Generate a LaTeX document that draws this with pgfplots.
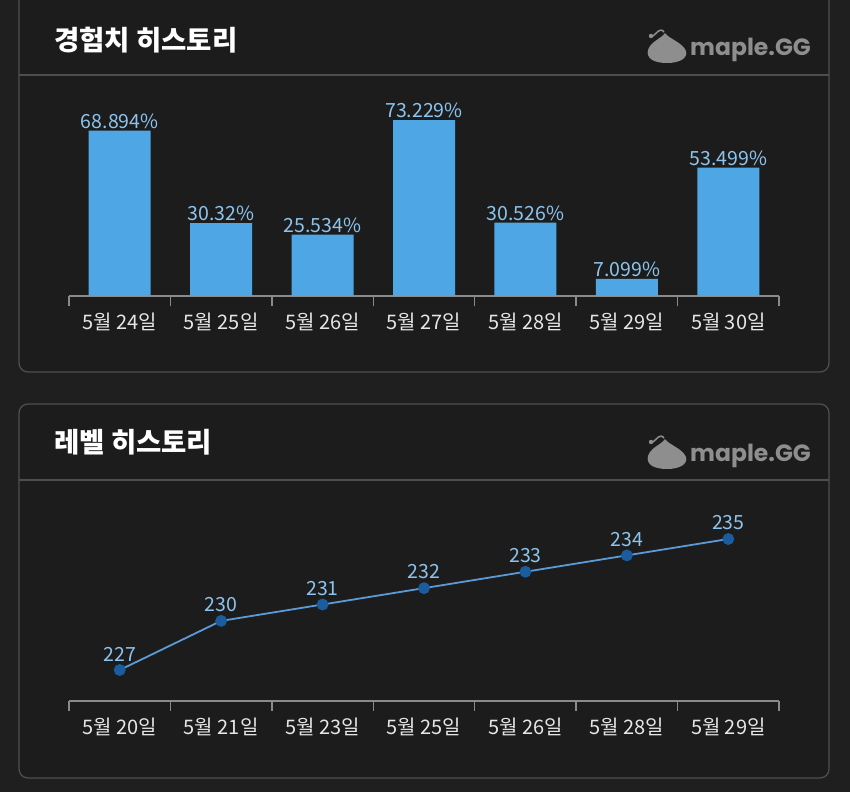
\documentclass[border=0pt]{standalone}
\usepackage{fontspec}
\setmainfont{Noto Sans CJK KR}
\newfontfamily\logofont{Poppins}
\usepackage{pgfplots}
\pgfplotsset{compat=1.18}

\definecolor{bgout}{HTML}{1F1F1F}
\definecolor{panelbg}{HTML}{1C1C1C}
\definecolor{panelline}{HTML}{4E4E4E}
\definecolor{axisgrey}{HTML}{8A8A8A}
\definecolor{ticktext}{HTML}{E6E6E6}
\definecolor{barblue}{HTML}{4EA7E4}
\definecolor{labelblue}{HTML}{8CC4EE}
\definecolor{lineblue}{HTML}{5A9AD6}
\definecolor{markblue}{HTML}{1A5C9E}
\definecolor{logogrey}{HTML}{8E8E8E}

\newcommand{\labfont}{\fontsize{19.5}{22}\selectfont}
\newcommand{\tickfont}{\fontsize{20}{23}\selectfont}
\newcommand{\titlefont}{\fontsize{27.5}{32}\selectfont\bfseries}

% logo: blob bottom centre at (#1,#2)
\newcommand{\mlogo}[2]{%
  \begin{scope}[shift={(#1,#2)}]
    \fill[logogrey] (0,0) .. controls (-14,0) and (-21,5) .. (-19,13)
      .. controls (-16,22) and (-6,24) .. (-2,30)
      .. controls (2,24) and (15,21) .. (19,12)
      .. controls (21,5) and (13,0) .. (0,0) -- cycle;
    \draw[logogrey, line width=1.5pt] (-14,27) .. controls (-10,30) and (-7,36) .. (-3,31);
    \fill[logogrey] (-16,27) circle (2.2);
    \node[anchor=base west, inner sep=0, text=logogrey] at (23,7)
      {\logofont\bfseries\fontsize{23.5}{27}\selectfont maple.GG};
  \end{scope}}

\begin{document}
\begin{tikzpicture}[x=1pt,y=1pt]
\useasboundingbox (0,0) rectangle (850,792);
\fill[bgout] (0,0) rectangle (850,792);

% panel 1
\draw[panelline, fill=panelbg, rounded corners=9pt, line width=1.3pt] (19,420) rectangle (829,802);
\draw[panelline, line width=1.3pt] (19,717) -- (829,717);
\node[anchor=west, inner sep=0, text=white] at (54,752) {\titlefont 경험치 히스토리};
\mlogo{667}{729}

% panel 2
\draw[panelline, fill=panelbg, rounded corners=9pt, line width=1.3pt] (19,14) rectangle (829,388);
\draw[panelline, line width=1.3pt] (19,312) -- (829,312);
\node[anchor=west, inner sep=0, text=white] at (54,350) {\titlefont 레벨 히스토리};
\mlogo{667}{323}

\pgfplotsset{
  histaxis/.style={
    anchor=south west, scale only axis, width=710pt,
    xmin=-0.5, xmax=6.5,
    axis x line=bottom, axis y line=none,
    x axis line style={-, draw=axisgrey, line width=1.5pt},
    xtick={0,...,6}, major tick length=0pt,
    minor xtick={-0.5,0.5,...,6.5}, minor tick length=10pt,
    tick align=outside,
    minor tick style={draw=axisgrey, line width=1.5pt},
    xticklabel style={font=\tickfont, text=ticktext, yshift=-13pt},
    clip=false,
  },
}

\begin{axis}[histaxis, at={(69pt,496pt)}, height=200pt,
  ymin=0, ymax=83.333,
  xticklabels={5월 24일, 5월 25일, 5월 26일, 5월 27일, 5월 28일, 5월 29일, 5월 30일}]
\addplot[ybar, bar width=62pt, fill=barblue, draw=none,
  point meta=explicit symbolic, nodes near coords,
  nodes near coords style={font=\labfont, text=labelblue, inner sep=2pt}]
  coordinates {
    (0,68.894) [68.894\%]
    (1,30.32)  [30.32\%]
    (2,25.534) [25.534\%]
    (3,73.229) [73.229\%]
    (4,30.526) [30.526\%]
    (5,7.099)  [7.099\%]
    (6,53.499) [53.499\%]
  };
\end{axis}

\begin{axis}[histaxis, at={(69pt,91pt)}, height=180pt,
  ymin=225.107, ymax=236.1,
  xticklabels={5월 20일, 5월 21일, 5월 23일, 5월 25일, 5월 26일, 5월 28일, 5월 29일}]
\addplot[draw=lineblue, line width=1.8pt, mark=*, mark size=5pt,
  mark options={fill=markblue, draw=markblue},
  point meta=explicit symbolic, nodes near coords,
  nodes near coords style={font=\labfont, text=labelblue, inner sep=2pt, yshift=6pt}]
  coordinates {
    (0,227) [227]
    (1,230) [230]
    (2,231) [231]
    (3,232) [232]
    (4,233) [233]
    (5,234) [234]
    (6,235) [235]
  };
\end{axis}
\end{tikzpicture}
\end{document}
